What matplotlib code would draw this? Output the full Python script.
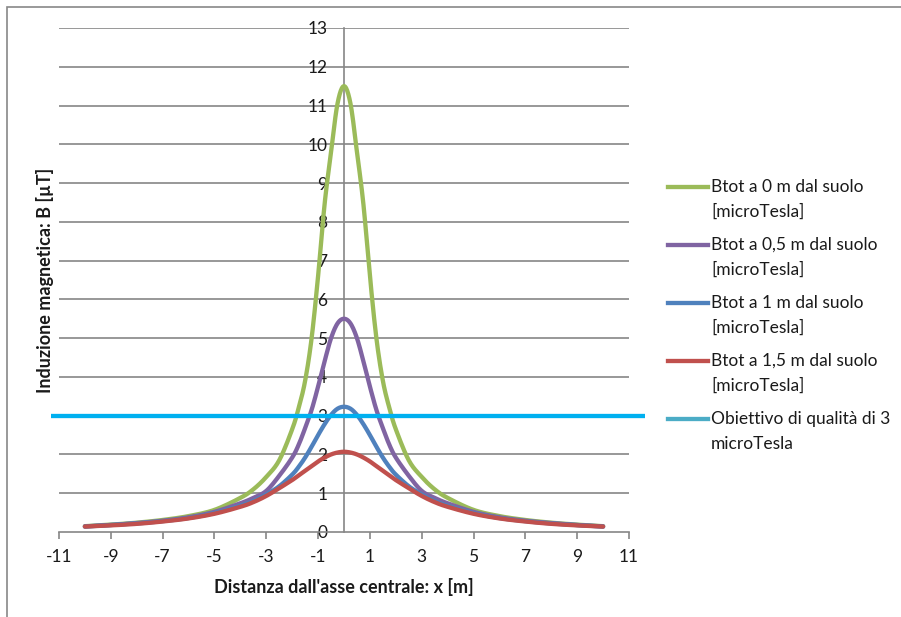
import numpy as np
import matplotlib
matplotlib.use('Agg')
import matplotlib.pyplot as plt
from matplotlib.lines import Line2D
from matplotlib.patches import Rectangle

plt.rcParams['font.family'] = ['Lato', 'DejaVu Sans']
plt.rcParams['axes.unicode_minus'] = False

# distanza dall'asse centrale [m]
x_vals = [-10, -9, -8, -7, -6, -5, -4, -3.5, -3, -2.5, -2, -1.75, -1.5, -1.25, -1, -0.75, -0.5, -0.25,
          0, 0.25, 0.5, 0.75, 1, 1.25, 1.5, 1.75, 2, 2.5, 3, 3.5, 4, 5, 6, 7, 8, 9, 10]

# Btot [microTesla]
b_0m = [0.15, 0.19, 0.24, 0.31, 0.41, 0.57, 0.88, 1.1, 1.42, 1.85, 2.65, 3.2, 3.9, 5.0, 6.6, 8.45, 9.8, 11.05,
        11.5, 11.05, 9.8, 8.45, 6.6, 5.0, 3.9, 3.2, 2.65, 1.85, 1.42, 1.1, 0.88, 0.57, 0.41, 0.31, 0.24, 0.19, 0.15]
b_05m = [0.145, 0.18, 0.23, 0.29, 0.38, 0.52, 0.74, 0.88, 1.06, 1.45, 1.92, 2.25, 2.68, 3.15, 3.75, 4.4, 5.0, 5.38,
         5.5, 5.38, 5.0, 4.4, 3.75, 3.15, 2.68, 2.25, 1.92, 1.45, 1.06, 0.88, 0.74, 0.52, 0.38, 0.29, 0.23, 0.18, 0.145]
b_1m = [0.14, 0.18, 0.22, 0.28, 0.36, 0.49, 0.68, 0.8, 0.97, 1.18, 1.48, 1.68, 1.92, 2.2, 2.5, 2.78, 3.02, 3.18,
        3.23, 3.18, 3.02, 2.78, 2.5, 2.2, 1.92, 1.68, 1.48, 1.18, 0.97, 0.8, 0.68, 0.49, 0.36, 0.28, 0.22, 0.18, 0.14]
b_15m = [0.14, 0.17, 0.21, 0.27, 0.35, 0.47, 0.65, 0.77, 0.93, 1.13, 1.34, 1.46, 1.58, 1.7, 1.82, 1.92, 2.0, 2.05,
         2.07, 2.05, 2.0, 1.92, 1.82, 1.7, 1.58, 1.46, 1.34, 1.13, 0.93, 0.77, 0.65, 0.47, 0.35, 0.27, 0.21, 0.17, 0.14]

# obiettivo di qualita'
x_obj = [-11.3, 11.6]
b_obj = [3, 3]

labels = ['Btot a 0 m dal suolo\n[microTesla]',
          'Btot a 0,5 m dal suolo\n[microTesla]',
          'Btot a 1 m dal suolo\n[microTesla]',
          'Btot a 1,5 m dal suolo\n[microTesla]',
          'Obiettivo di qualità di 3\nmicroTesla']
colors = ['#9BBB59', '#8064A2', '#4F81BD', '#C0504D', '#4BACC6']


def smooth(xs, ys, n=12):
    # Catmull-Rom through the points, like Excel's "smoothed line"
    p = np.column_stack([xs, ys]).astype(float)
    p = np.vstack([p[0], p, p[-1]])
    t = np.linspace(0, 1, n, endpoint=False)[:, None]
    out = []
    for i in range(1, len(p) - 2):
        p0, p1, p2, p3 = p[i - 1], p[i], p[i + 1], p[i + 2]
        out.append(0.5 * (2 * p1 + (-p0 + p2) * t + (2 * p0 - 5 * p1 + 4 * p2 - p3) * t ** 2
                          + (-p0 + 3 * p1 - 3 * p2 + p3) * t ** 3))
    out.append(p[-2][None, :])
    out = np.vstack(out)
    return out[:, 0], out[:, 1]


W, H = 901, 617
fig = plt.figure(figsize=(W / 100, H / 100), dpi=100)
ax = fig.add_axes([59 / W, (H - 532) / H, 570 / W, 504 / H])

grid_c = '#868686'
txt_c = '#1a1a1a'
for yv in range(1, 14):
    ax.axhline(yv, color=grid_c, lw=1.2, zorder=1)

for k, ys in enumerate([b_0m, b_05m, b_1m, b_15m]):
    sx, sy = smooth(x_vals, ys)
    ax.plot(sx, sy, color=colors[k], lw=3.1, zorder=3 + k, solid_capstyle='round')
ax.plot(x_obj, b_obj, color='#00B0F0', lw=3.1, zorder=7, clip_on=False, solid_capstyle='butt')

ax.set_xlim(-11, 11)
ax.set_ylim(0, 13)
ax.set_xticks(range(-11, 12, 2))
ax.set_yticks(range(0, 14))

for s in ['top', 'right']:
    ax.spines[s].set_visible(False)
ax.spines['left'].set_position(('data', 0))
ax.spines['left'].set_color(grid_c)
ax.spines['left'].set_linewidth(1.2)
ax.spines['left'].set_zorder(2)
ax.spines['bottom'].set_color(grid_c)
ax.spines['bottom'].set_linewidth(1.2)

ax.tick_params(axis='x', direction='out', length=5, width=1.2, color=grid_c,
               labelsize=12.5, labelcolor=txt_c, pad=7)
ax.tick_params(axis='y', length=0, labelsize=12.5, labelcolor=txt_c, pad=12)

ax.set_xlabel("Distanza dall'asse centrale: x [m]", fontsize=13, fontweight='bold', color=txt_c)
ax.xaxis.set_label_coords(0.5, (532 - 587) / 504)
ax.xaxis.label.set_va('center')
ax.set_ylabel('Induzione magnetica: B [µT]', fontsize=13, fontweight='bold', color=txt_c)
ax.yaxis.set_label_coords((45 - 59) / 570, 0.5)
ax.yaxis.label.set_va('center')

# legend drawn by hand: handle lines up with the first text line
for i, (lab, c) in enumerate(zip(labels, colors)):
    yp = 187 + i * 58
    fig.add_artist(Line2D([668 / W, 708 / W], [1 - yp / H, 1 - yp / H], color=c, lw=3.1,
                          transform=fig.transFigure))
    for j, part in enumerate(lab.split('\n')):
        fig.text(711 / W, 1 - (yp + j * 25) / H, part, fontsize=12.5, color=txt_c,
                 ha='left', va='center')

# chart area border
fig.add_artist(Rectangle((7 / W, -0.1), 2, 1.1 - 7 / H, transform=fig.transFigure,
                         fill=False, ec='#888888', lw=1.2))

fig.savefig('out.png', dpi=100)
